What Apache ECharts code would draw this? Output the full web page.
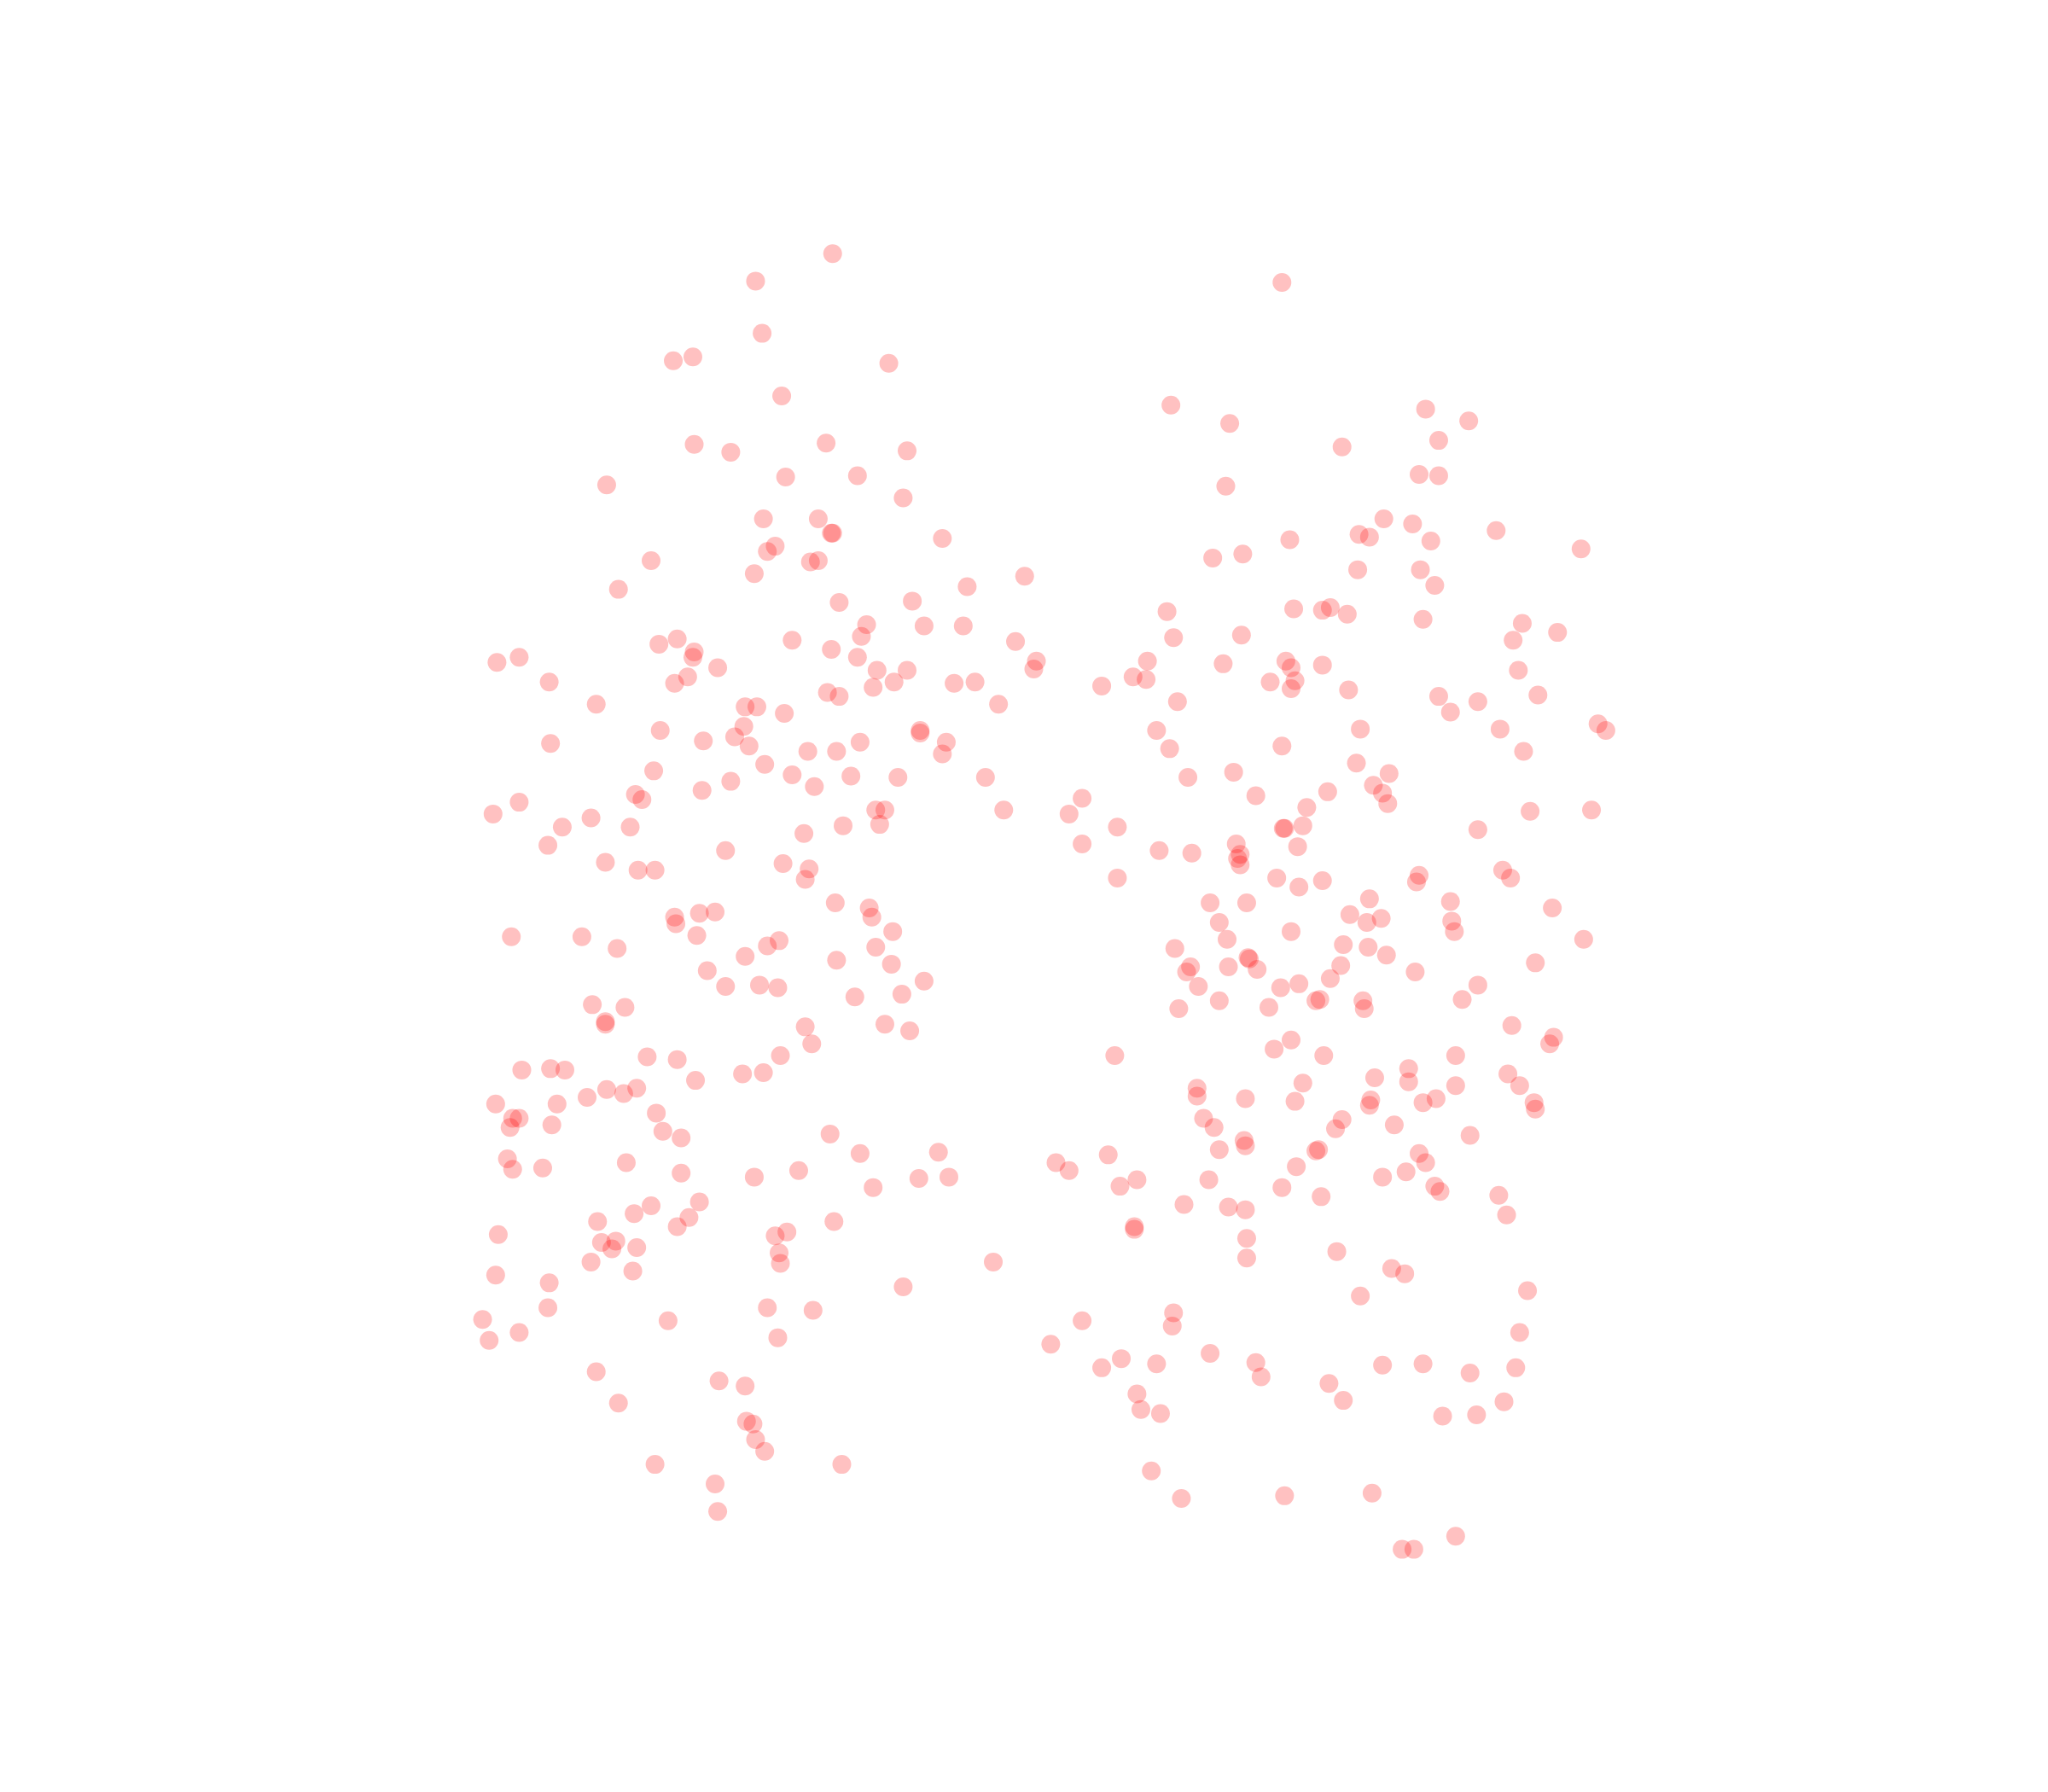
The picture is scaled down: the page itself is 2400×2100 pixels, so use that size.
<!DOCTYPE html>
<html><head><meta charset="utf-8">
<style>html,body{margin:0;padding:0;background:#fff}#c{width:2400px;height:2100px}</style>
<script src="https://cdn.jsdelivr.net/npm/echarts@6/dist/echarts.min.js"></script>
</head><body><div id="c"></div>
<script>
const leftPoints=[[637,194],[578,215],[583,255],[515,276],[530,273],[680,278],[598,303],[531,340],[559,346],[632,339],[694,345],[656,364],[601,365],[464,371],[691,381],[584,397],[626,397],[636,408],[637,408],[721,412],[593,418],[587,422],[620,430],[626,429],[498,429],[577,439],[784,441],[740,449],[473,451],[642,461],[698,460],[663,478],[707,479],[737,479],[659,487],[518,489],[504,493],[606,490],[636,497],[531,499],[530,503],[656,503],[777,491],[793,506],[791,512],[380,507],[397,503],[549,511],[671,513],[694,513],[526,518],[516,523],[420,522],[684,522],[668,526],[730,523],[746,522],[633,530],[642,533],[456,539],[570,541],[579,541],[600,546],[764,539],[569,556],[505,559],[704,559],[704,561],[562,564],[538,567],[421,569],[573,571],[658,568],[724,568],[618,575],[640,575],[721,577],[585,585],[500,590],[606,593],[651,594],[687,595],[754,595],[559,598],[623,602],[537,605],[486,608],[491,612],[397,614],[377,623],[452,626],[670,620],[677,620],[768,620],[482,633],[430,633],[645,632],[673,631],[615,638],[419,647],[555,651],[463,660],[599,661],[488,666],[501,666],[619,665],[616,673],[639,691],[665,695],[667,702],[547,698],[535,699],[516,702],[517,707],[683,713],[533,716],[391,717],[445,717],[596,720],[587,724],[472,726],[670,725],[570,732],[640,735],[682,738],[541,743],[707,751],[555,755],[581,754],[595,756],[654,763],[690,761],[453,769],[478,771],[463,782],[463,784],[616,786],[677,784],[696,789],[621,799],[597,808],[495,809],[518,811],[399,819],[421,818],[432,819],[568,822],[584,821],[532,827],[487,833],[464,834],[477,837],[449,840],[379,845],[426,845],[502,852],[392,856],[397,856],[390,863],[422,861],[507,866],[521,871],[635,868],[658,883],[718,882],[388,887],[392,895],[415,894],[479,890],[521,898],[577,901],[611,896],[703,902],[726,901],[668,909],[535,920],[498,923],[485,929],[527,932],[457,935],[518,939],[638,935],[381,945],[602,943],[593,946],[460,951],[471,950],[468,956],[487,955],[596,959],[597,967],[452,966],[484,973],[760,966],[379,976],[420,982],[691,985],[587,1001],[622,1003],[419,1001],[369,1010],[511,1011],[374,1026],[397,1020],[595,1024],[456,1050],[550,1057],[570,1061],[473,1074],[571,1088],[576,1090],[578,1102],[585,1111],[501,1121],[644,1121],[547,1136],[549,1157]];
const rightPoints=[[981,216],[896,310],[941,324],[1091,313],[1124,322],[1101,337],[1027,342],[1086,363],[1101,364],[938,372],[1059,397],[1081,401],[1040,409],[1048,411],[1095,414],[1145,406],[987,413],[1210,420],[951,424],[928,427],[1039,436],[1087,436],[1098,448],[893,468],[990,466],[1012,467],[1018,465],[1031,470],[1089,474],[1165,477],[1192,484],[898,488],[950,486],[1158,490],[878,506],[936,508],[984,506],[988,511],[1012,509],[1162,513],[867,518],[877,520],[972,522],[991,521],[988,527],[843,525],[1032,528],[1101,533],[1177,532],[901,537],[1131,537],[1110,545],[885,559],[1041,558],[1148,558],[1223,554],[1229,559],[895,573],[981,571],[1166,575],[1038,584],[909,595],[944,591],[1063,592],[1051,601],[961,609],[1016,606],[1058,607],[1062,615],[828,611],[1000,618],[818,623],[1171,621],[1218,620],[855,633],[982,634],[983,634],[997,632],[1131,635],[828,646],[946,646],[993,648],[887,651],[912,653],[949,654],[947,657],[949,662],[1150,666],[1156,672],[855,672],[977,672],[1012,674],[1086,670],[1084,675],[994,679],[1048,688],[926,691],[954,691],[1110,690],[1188,695],[1033,700],[1057,703],[933,706],[1046,706],[1111,705],[1113,713],[988,713],[939,719],[1212,719],[1028,723],[1047,725],[899,726],[1061,731],[955,733],[956,734],[1175,737],[911,740],[940,740],[962,742],[908,744],[1026,739],[1083,744],[1018,749],[917,755],[994,753],[980,756],[1131,754],[1119,765],[933,766],[1007,766],[1010,765],[1043,766],[1044,772],[902,772],[971,771],[1157,785],[1189,794],[1186,799],[988,796],[975,803],[853,808],[1013,808],[1114,808],[1078,818],[1154,822],[1052,825],[1078,828],[1163,831],[997,829],[916,833],[1114,831],[916,839],[953,841],[991,843],[1049,842],[1048,846],[1089,844],[1099,841],[1174,844],[1175,849],[921,856],[1027,857],[1067,861],[929,863],[1022,864],[1125,869],[952,873],[953,877],[933,880],[1007,881],[1009,880],[1086,883],[848,884],[808,890],[818,896],[1091,890],[992,893],[1076,897],[1058,901],[870,903],[925,903],[857,908],[981,909],[1098,908],[1102,912],[1147,915],[1011,916],[906,922],[940,924],[953,926],[1153,930],[868,939],[868,941],[954,948],[954,963],[1023,958],[1065,971],[1075,975],[1169,988],[1041,992],[898,1005],[897,1015],[828,1011],[1163,1020],[804,1029],[926,1036],[858,1040],[843,1047],[885,1044],[961,1043],[1058,1045],[1089,1044],[1125,1051],[1160,1047],[965,1054],[1017,1059],[870,1067],[1028,1072],[1151,1073],[873,1079],[888,1082],[1104,1084],[1130,1083],[881,1126],[904,1147],[983,1145],[1050,1143],[1114,1176],[1073,1186],[1082,1186]];
const chart=echarts.init(document.getElementById('c'),null,{renderer:'canvas'});
const style={color:'rgba(255,0,0,0.3)'};
chart.setOption({
  animation:false,
  backgroundColor:'#fff',
  grid:{left:0,right:0,top:0,bottom:0},
  xAxis:{type:'value',min:-0.5,max:1567.5,show:false},
  yAxis:{type:'value',min:-0.2,max:1371.8,inverse:true,show:false},
  series:[
    {type:'scatter',data:leftPoints,symbolSize:22,itemStyle:style},
    {type:'scatter',data:rightPoints,symbolSize:22,itemStyle:style}
  ]
});
</script></body></html>
